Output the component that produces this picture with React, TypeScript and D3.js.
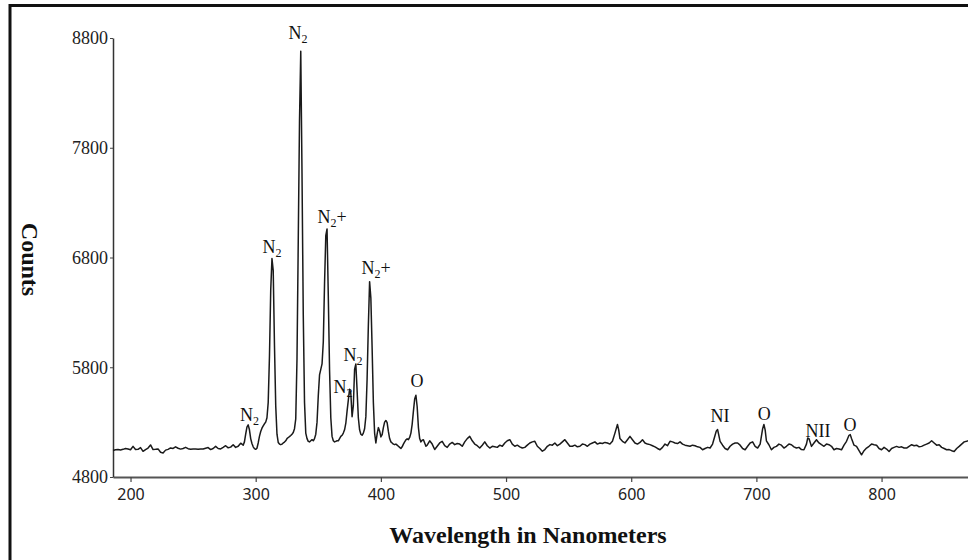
import React, { useEffect, useRef } from "react";
import * as d3 from "d3";

// Spectrum, [wavelength nm, counts]
const uvBaseline: [number, number][] = [
  [186, 5042], [188, 5048], [190, 5050], [192, 5046], [194, 5052], [196, 5060], [198, 5055],
  [200, 5048], [202, 5079], [204, 5050], [206, 5052], [208, 5068], [210, 5034], [212, 5050],
  [214, 5064], [216, 5092], [218, 5050], [220, 5052], [222, 5056], [224, 5025], [226, 5018],
  [228, 5045], [230, 5052], [232, 5065], [234, 5060], [236, 5075], [238, 5062], [240, 5054],
  [242, 5060], [244, 5070], [246, 5058], [248, 5052], [250, 5055], [252, 5055], [254, 5052],
  [256, 5056], [258, 5055], [260, 5062], [262, 5068], [264, 5050], [266, 5060], [268, 5079],
  [270, 5060], [272, 5056], [274, 5070], [276, 5085], [278, 5066], [280, 5072], [282, 5094],
  [284, 5070], [286, 5080], [288, 5108], [290, 5090]
];

const nitrogenBands: [number, number][] = [
  [291, 5120], [292, 5190], [293, 5255], [294, 5275], [295, 5230], [296, 5150], [297, 5105],
  [298, 5075], [299, 5058], [300, 5052], [301, 5062], [302, 5110], [303, 5170], [304, 5215],
  [305, 5245], [306, 5265], [307, 5285], [308, 5300], [309, 5340], [310, 5480], [311, 5900],
  [312, 6500], [313, 6790], [314, 6680], [315, 6000], [316, 5450], [317, 5190], [318, 5115],
  [319, 5100], [320, 5095], [321, 5100], [322, 5110], [323, 5118], [324, 5130], [325, 5150],
  [326, 5160], [327, 5168], [328, 5178], [329, 5190], [330, 5205], [331, 5240], [332, 5330],
  [333, 5880], [334, 6950], [335, 8050], [336, 8680], [337, 7560], [338, 6280], [339, 5480],
  [340, 5200], [341, 5150], [342, 5125], [343, 5120], [344, 5130], [345, 5140], [346, 5130],
  [347, 5150], [348, 5190], [349, 5300], [350, 5540], [351, 5730], [352, 5780], [353, 5830],
  [354, 6030], [355, 6560], [356, 7000], [357, 7060], [358, 6450], [359, 5780], [360, 5340],
  [361, 5170], [362, 5130], [363, 5120], [364, 5125], [365, 5130], [366, 5130], [367, 5150],
  [368, 5170], [369, 5180], [370, 5200], [371, 5230], [372, 5290], [373, 5400], [374, 5500],
  [375, 5600], [376, 5560], [377, 5350], [378, 5450], [379, 5780], [380, 5830], [381, 5590],
  [382, 5340], [383, 5230], [384, 5190], [385, 5180], [386, 5200], [387, 5240], [388, 5350],
  [389, 5690], [390, 6180], [391, 6580], [392, 6430], [393, 5980], [394, 5480], [395, 5200],
  [396, 5110], [397, 5190], [398, 5250], [399, 5220], [400, 5165], [401, 5185], [402, 5250],
  [403, 5300], [404, 5315], [405, 5295], [406, 5215], [407, 5150], [408, 5120], [409, 5110],
  [410, 5100], [411, 5095], [412, 5100], [413, 5090], [414, 5080], [415, 5070], [416, 5060],
  [417, 5075], [418, 5100], [419, 5120], [420, 5138], [421, 5148], [422, 5140], [423, 5160],
  [424, 5200], [425, 5280], [426, 5400], [427, 5510], [428, 5545], [429, 5440], [430, 5250],
  [431, 5150], [432, 5120], [433, 5135], [434, 5140], [435, 5110], [436, 5080]
];

const visibleRange: [number, number][] = [
  [437, 5090], [439, 5130], [441, 5100], [443, 5050], [445, 5080], [447, 5110], [449, 5125],
  [451, 5085], [453, 5070], [455, 5100], [457, 5115], [459, 5095], [461, 5105], [463, 5100],
  [465, 5080], [467, 5120], [469, 5150], [471, 5170], [473, 5130], [475, 5100], [477, 5085],
  [479, 5064], [481, 5090], [483, 5120], [485, 5085], [487, 5064], [489, 5080], [491, 5075],
  [493, 5070], [495, 5090], [497, 5080], [499, 5110], [501, 5130], [503, 5140], [505, 5100],
  [507, 5080], [509, 5090], [511, 5075], [513, 5064], [515, 5070], [517, 5090], [519, 5110],
  [521, 5120], [523, 5125], [525, 5080], [527, 5060], [529, 5035], [531, 5050], [533, 5080],
  [535, 5095], [537, 5090], [539, 5110], [541, 5085], [543, 5100], [545, 5120], [547, 5140],
  [549, 5110], [551, 5080], [553, 5080], [555, 5090], [557, 5075], [559, 5080], [561, 5100],
  [563, 5095], [565, 5080], [567, 5100], [569, 5110], [571, 5120], [573, 5100], [575, 5110],
  [577, 5105], [579, 5115], [581, 5110], [583, 5100], [585, 5125], [587, 5200], [589, 5278],
  [590, 5230], [591, 5150], [593, 5125], [595, 5110], [597, 5140], [599, 5170], [601, 5140],
  [603, 5110], [605, 5100], [607, 5115], [609, 5140], [611, 5110], [613, 5100], [615, 5095],
  [617, 5085], [619, 5075], [621, 5060], [623, 5048], [625, 5070], [627, 5100], [629, 5085],
  [631, 5125], [633, 5120], [635, 5110], [637, 5105], [639, 5120]
];

const nearInfrared: [number, number][] = [
  [641, 5100], [643, 5090], [645, 5085], [647, 5080], [649, 5090], [651, 5085], [653, 5075],
  [655, 5070], [657, 5048], [659, 5060], [661, 5070], [663, 5064], [665, 5100], [667, 5180],
  [668, 5220], [669, 5232], [670, 5180], [671, 5125], [673, 5090], [675, 5060], [677, 5048],
  [679, 5080], [681, 5100], [683, 5110], [685, 5110], [687, 5090], [689, 5060], [691, 5048],
  [693, 5080], [695, 5110], [697, 5120], [699, 5080], [701, 5064], [703, 5100], [704, 5171],
  [705, 5240], [706, 5278], [707, 5230], [708, 5130], [710, 5094], [712, 5048], [714, 5070],
  [716, 5079], [718, 5100], [720, 5090], [722, 5064], [724, 5080], [726, 5100], [728, 5094],
  [730, 5075], [732, 5064], [734, 5070], [736, 5050], [738, 5048], [740, 5100], [741, 5155],
  [742, 5150], [744, 5079], [746, 5110], [748, 5140], [750, 5110], [752, 5094], [754, 5080],
  [756, 5100], [758, 5094], [760, 5080], [762, 5048], [764, 5060], [766, 5055], [768, 5048],
  [770, 5090], [772, 5125], [774, 5180], [775, 5186], [776, 5150], [778, 5090], [780, 5079],
  [782, 5040], [784, 5002], [786, 5040], [788, 5064], [790, 5080], [792, 5100], [794, 5094],
  [796, 5090], [798, 5060], [800, 5048], [802, 5070], [804, 5055], [806, 5033], [808, 5060],
  [810, 5070], [812, 5079], [814, 5070], [816, 5075], [818, 5064], [820, 5064], [822, 5080],
  [824, 5094], [826, 5085], [828, 5090], [830, 5075], [832, 5079], [834, 5090], [836, 5100],
  [838, 5110], [840, 5130], [842, 5110], [844, 5090], [846, 5094], [848, 5070], [850, 5060],
  [852, 5048], [854, 5050], [856, 5040], [858, 5033], [860, 5060], [862, 5079], [864, 5100],
  [866, 5120], [868, 5125], [870, 5135], [872, 5145]
];

const xTicks = [200, 300, 400, 500, 600, 700, 800];
const yTicks = [4800, 5800, 6800, 7800, 8800];

// Peak labels: species text, subscript, suffix, position in data units
const peakLabels = [
  { base: "N", sub: "2", suffix: "", nm: 333.8, counts: 8791 },
  { base: "N", sub: "2", suffix: "", nm: 313.0, counts: 6841 },
  { base: "N", sub: "2", suffix: "+", nm: 361.0, counts: 7113 },
  { base: "N", sub: "2", suffix: "+", nm: 396.1, counts: 6650 },
  { base: "N", sub: "2", suffix: "", nm: 377.8, counts: 5861 },
  { base: "N", sub: "2", suffix: "", nm: 369.8, counts: 5562 },
  { base: "N", sub: "2", suffix: "", nm: 295.1, counts: 5308 },
  { base: "O", sub: "", suffix: "", nm: 428.9, counts: 5616 },
  { base: "NI", sub: "", suffix: "", nm: 670.9, counts: 5299 },
  { base: "O", sub: "", suffix: "", nm: 706.2, counts: 5317 },
  { base: "NII", sub: "", suffix: "", nm: 749.3, counts: 5163 },
  { base: "O", sub: "", suffix: "", nm: 774.8, counts: 5217 }
];

export default function App() {
  const svgRef = useRef<SVGSVGElement>(null);

  useEffect(() => {
    const width = 968;
    const height = 560;
    const serif = "'Liberation Serif', 'Times New Roman', serif";

    const spectrum = [...uvBaseline, ...nitrogenBands, ...visibleRange, ...nearInfrared];

    const x = d3.scaleLinear().domain([186, 880]).range([113, 981.7]);
    const y = d3.scaleLinear().domain([4800, 8800]).range([477, 38]);

    const svg = d3.select(svgRef.current)
      .attr("width", width)
      .attr("height", height)
      .attr("viewBox", [0, 0, width, height]);

    svg.selectAll("*").remove();

    svg.append("rect")
      .attr("width", width)
      .attr("height", height)
      .attr("fill", "#fff");

    // outer frame, only left and top edges fall inside the picture
    svg.append("rect")
      .attr("x", 10)
      .attr("y", 5.5)
      .attr("width", 1000)
      .attr("height", 1000)
      .attr("fill", "none")
      .attr("stroke", "#111")
      .attr("stroke-width", 3);

    // x axis
    const gx = svg.append("g")
      .attr("transform", `translate(0,${y(4800)})`)
      .call(d3.axisBottom(x).tickValues(xTicks).tickSize(5).tickSizeOuter(0).tickPadding(7));
    gx.select(".domain").attr("stroke", "#555").attr("stroke-width", 2);
    gx.selectAll(".tick line").attr("stroke", "#444").attr("stroke-width", 1.2);
    gx.selectAll(".tick text")
      .attr("fill", "#222")
      .attr("font-family", "'Noto Sans', 'DejaVu Sans', sans-serif")
      .attr("font-size", 16);

    // y axis
    const gy = svg.append("g")
      .attr("transform", `translate(${x(186)},0)`)
      .call(d3.axisLeft(y).tickValues(yTicks).tickFormat(d3.format("d")).tickSize(3).tickSizeOuter(0).tickPadding(2));
    gy.select(".domain").attr("stroke", "#333").attr("stroke-width", 1.5);
    gy.selectAll(".tick line").attr("stroke", "#444");
    gy.selectAll(".tick text")
      .attr("fill", "#222")
      .attr("font-family", serif)
      .attr("font-size", 18);

    // spectrum line
    const line = d3.line<[number, number]>()
      .x(d => x(d[0]))
      .y(d => y(d[1]));

    svg.append("path")
      .datum(spectrum)
      .attr("fill", "none")
      .attr("stroke", "#1a1a1a")
      .attr("stroke-width", 1.5)
      .attr("stroke-linejoin", "round")
      .attr("d", line);

    // peak annotations
    const labels = svg.append("g")
      .attr("font-family", serif)
      .attr("font-size", 18)
      .attr("fill", "#111")
      .attr("text-anchor", "middle");

    peakLabels.forEach(p => {
      const t = labels.append("text")
        .attr("x", x(p.nm))
        .attr("y", y(p.counts));
      t.append("tspan").text(p.base);
      if (p.sub) {
        t.append("tspan").attr("font-size", 12).attr("dy", 4).text(p.sub);
      }
      if (p.suffix) {
        t.append("tspan").attr("dy", -4).text(p.suffix);
      }
    });

    // axis titles
    svg.append("text")
      .attr("transform", `translate(22,${(y(4800) + y(8800)) / 2 + 2}) rotate(90)`)
      .attr("text-anchor", "middle")
      .attr("font-family", serif)
      .attr("font-weight", "bold")
      .attr("font-size", 24)
      .attr("fill", "#111")
      .text("Counts");

    svg.append("text")
      .attr("x", 528)
      .attr("y", 543)
      .attr("text-anchor", "middle")
      .attr("font-family", serif)
      .attr("font-weight", "bold")
      .attr("font-size", 24)
      .attr("fill", "#111")
      .text("Wavelength in Nanometers");

    return () => {
      d3.select(svgRef.current).selectAll("*").remove();
    };
  }, []);

  return (
    <div style={{ position: "absolute", left: 0, top: 0 }}>
      <svg ref={svgRef} style={{ display: "block" }} />
    </div>
  );
}
